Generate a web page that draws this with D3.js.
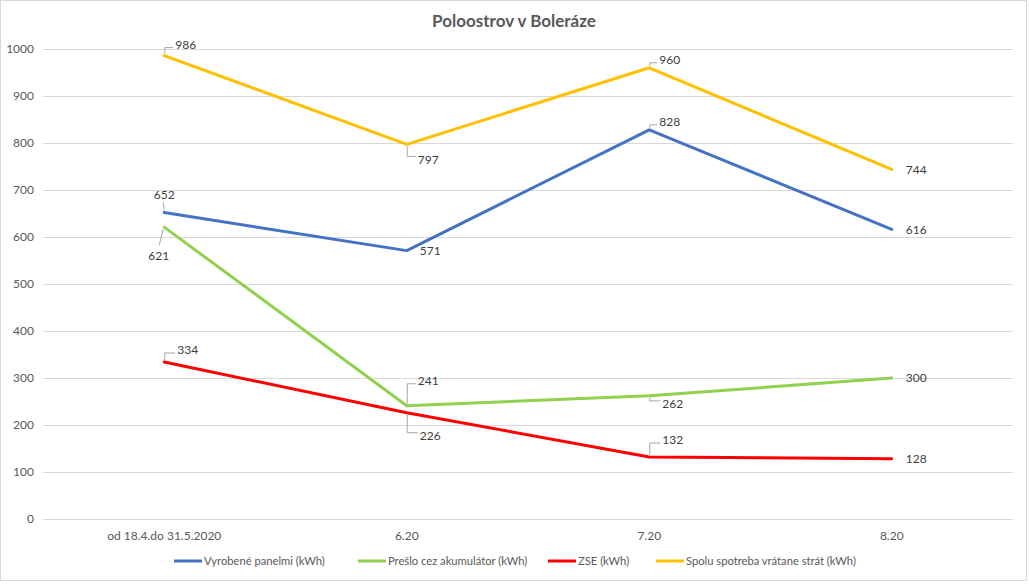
<!DOCTYPE html>
<html>
<head>
<meta charset="utf-8">
<script src="https://cdn.jsdelivr.net/npm/d3@7"></script>
<style>
  body { margin: 0; background: #fff; }
  text { font-family: Lato, "Open Sans", sans-serif; }
</style>
</head>
<body>
<div id="drawing-area" style="width:1029px;height:585px"></div>
<script>
// chart data
var categories = ["od 18.4.do 31.5.2020", "6.20", "7.20", "8.20"];
var vyrobene = [652, 571, 828, 616];
var preslo = [621, 241, 262, 300];
var zse = [334, 226, 132, 128];
var spolu = [986, 797, 960, 744];
var yTicks = [0, 100, 200, 300, 400, 500, 600, 700, 800, 900, 1000];
var seriesNames = ["Vyrobené panelmi (kWh)", "Prešlo cez akumulátor (kWh)", "ZSE (kWh)", "Spolu spotreba vrátane strát (kWh)"];

// label placement per point: [dx, dy, leader type]
// leader: "up" = goes up then right, "down" = down then right, "diag", "none"
var lblVyrobene = [[0, -18, "above"], [13, 0, "none"], [10, -8, "up"], [14, 0, "none"]];
var lblPreslo = [[-8, 29, "diag"], [11, -25, "up"], [13, 8, "down"], [14, 0, "none"]];
var lblZse = [[13, -12, "up"], [13, 23, "down"], [13, -17, "up"], [14, 0, "none"]];
var lblSpolu = [[11, -11, "up"], [11, 15, "down"], [10, -8, "up"], [14, 0, "none"]];

function draw() {
    var sx = 1029, sy = 585;
    var svg = d3.select('#drawing-area').append('svg').attr('width', sx).attr('height', sy);

    svg.append("rect")
        .attr("x", 0.5).attr("y", 0.5)
        .attr("width", 1026).attr("height", 580)
        .attr("fill", "#fff").attr("stroke", "#d9d9d9");

    var left = 43, right = 1013, top = 49, bottom = 519;

    var x = d3.scaleBand().domain(categories).range([left, right]);
    var y = d3.scaleLinear().domain([0, 1000]).range([bottom, top]);

    // title
    svg.append("text")
        .attr("x", 514).attr("y", 27)
        .attr("text-anchor", "middle")
        .attr("font-size", "17px").attr("font-weight", "bold")
        .attr("fill", "#595959")
        .text("Poloostrov v Boleráze");

    // grid
    var yAxis = d3.axisLeft(y).tickValues(yTicks).tickFormat(d3.format("d"))
        .tickSize(-(right - left)).tickPadding(9);
    var gy = svg.append("g").attr("transform", "translate(" + left + ",0)").call(yAxis);
    gy.select(".domain").remove();
    gy.selectAll(".tick line").attr("stroke", "#d9d9d9");
    gy.selectAll(".tick text").attr("fill", "#595959").attr("font-size", "12px")
        .style("font-family", "Lato, sans-serif");

    var xAxis = d3.axisBottom(x).tickSize(0).tickPadding(12);
    var gx = svg.append("g").attr("transform", "translate(0," + bottom + ")").call(xAxis);
    gx.select(".domain").remove();
    gx.selectAll(".tick text").attr("fill", "#595959").attr("font-size", "12px")
        .style("font-family", "Lato, sans-serif");

    var series = [
        { name: seriesNames[0], values: vyrobene, color: "#4472c4", lbl: lblVyrobene },
        { name: seriesNames[1], values: preslo, color: "#92d050", lbl: lblPreslo },
        { name: seriesNames[2], values: zse, color: "#ff0000", lbl: lblZse },
        { name: seriesNames[3], values: spolu, color: "#ffc000", lbl: lblSpolu }
    ];

    var line = d3.line()
        .x(function (d, i) { return x(categories[i]) + x.bandwidth() / 2; })
        .y(function (d) { return y(d); });

    series.forEach(function (s) {
        svg.append("path")
            .attr("d", line(s.values))
            .attr("fill", "none")
            .attr("stroke", s.color)
            .attr("stroke-width", 3)
            .attr("stroke-linejoin", "round")
            .attr("stroke-linecap", "round");
    });

    // data labels with leader lines
    series.forEach(function (s) {
        s.values.forEach(function (v, i) {
            var px = x(categories[i]) + x.bandwidth() / 2;
            var py = y(v);
            var o = s.lbl[i];
            var lx = px + o[0], ly = py + o[1];
            var kind = o[2];
            var anchor = "start";
            if (kind == "up" || kind == "down") {
                var ty = kind == "up" ? ly + 3 : ly - 3;
                svg.append("path")
                    .attr("d", "M" + (px + 0.5) + " " + (py + (kind == "up" ? -2 : 2)) +
                        " L" + (px + 0.5) + " " + ty + " L" + (lx - 2) + " " + ty)
                    .attr("fill", "none").attr("stroke", "#a6a6a6").attr("stroke-width", 1);
            } else if (kind == "above") {
                anchor = "middle";
                svg.append("line")
                    .attr("x1", px).attr("y1", py - 2).attr("x2", px - 1).attr("y2", ly + 8)
                    .attr("stroke", "#a6a6a6").attr("stroke-width", 1);
            } else if (kind == "diag") {
                anchor = "end";
                svg.append("line")
                    .attr("x1", px - 1).attr("y1", py + 2).attr("x2", px - 5).attr("y2", ly - 11)
                    .attr("stroke", "#a6a6a6").attr("stroke-width", 1);
                lx = px + 5;
            }
            svg.append("text")
                .attr("x", lx).attr("y", ly)
                .attr("dy", "0.35em")
                .attr("text-anchor", anchor)
                .attr("font-size", "12px")
                .attr("fill", "#404040")
                .text(v);
        });
    });

    // legend
    var legendX = [174, 358, 548, 656];
    series.forEach(function (s, i) {
        var g = svg.append("g").attr("transform", "translate(" + legendX[i] + ",561)");
        g.append("line").attr("x1", 0).attr("x2", 28).attr("y1", 0).attr("y2", 0)
            .attr("stroke", s.color).attr("stroke-width", 3);
        g.append("text").attr("x", 30).attr("y", 0).attr("dy", "0.35em")
            .attr("font-size", "11.2px").attr("fill", "#595959")
            .text(s.name);
    });
}

draw();
</script>
</body>
</html>
